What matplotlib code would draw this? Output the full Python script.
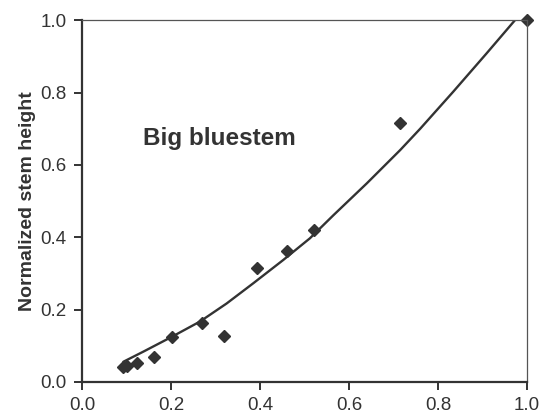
import matplotlib
matplotlib.use("Agg")
import matplotlib.pyplot as plt

plt.rcParams['font.family'] = ['Liberation Sans', 'DejaVu Sans']

# Observed data points (normalized stem mass vs normalized stem height)
obs_x = [0.093, 0.100, 0.123, 0.162, 0.202, 0.269, 0.318, 0.393, 0.460, 0.521, 0.715, 1.0]
obs_y = [0.041, 0.044, 0.052, 0.070, 0.125, 0.162, 0.128, 0.316, 0.363, 0.420, 0.717, 1.0]

# Fitted curve
fit_x = [0.093, 0.138, 0.202, 0.265, 0.325, 0.385, 0.452, 0.512, 0.565, 0.640,
         0.715, 0.760, 0.789, 0.834, 0.909, 0.973]
fit_y = [0.056, 0.084, 0.125, 0.167, 0.217, 0.273, 0.337, 0.397, 0.461, 0.549,
         0.641, 0.700, 0.740, 0.802, 0.908, 1.0]

x_ticks = [0.0, 0.2, 0.4, 0.6, 0.8, 1.0]
y_ticks = [0.0, 0.2, 0.4, 0.6, 0.8, 1.0]
tick_labels = ["0.0", "0.2", "0.4", "0.6", "0.8", "1.0"]

ink = '#333333'

fig = plt.figure(figsize=(5.45, 4.2), dpi=100)
ax = fig.add_axes([0.1505, 0.0905, 0.8165, 0.8615])

ax.plot(fit_x, fit_y, color=ink, lw=1.7, solid_capstyle='round', solid_joinstyle='round')
ax.plot(obs_x, obs_y, linestyle='none', marker='D', ms=6, color=ink, clip_on=False)

ax.set_xlim(0, 1)
ax.set_ylim(0, 1)
ax.set_xticks(x_ticks)
ax.set_xticklabels(tick_labels)
ax.set_yticks(y_ticks)
ax.set_yticklabels(tick_labels)

for s in ['left', 'bottom']:
    ax.spines[s].set_linewidth(1.6)
    ax.spines[s].set_color(ink)
for s in ['top', 'right']:
    ax.spines[s].set_linewidth(0.9)
    ax.spines[s].set_color('#555555')

ax.tick_params(direction='out', length=6, width=1.4, color=ink,
               labelsize=13.5, labelcolor=ink, pad=5)

ax.set_ylabel('Normalized stem height', fontsize=14, fontweight='bold', color=ink, labelpad=3)
ax.text(0.137, 0.674, 'Big bluestem', fontsize=17.5, fontweight='bold', color=ink,
        transform=ax.transData, va='center', ha='left')

fig.savefig('out.png', dpi=100, facecolor='white')
